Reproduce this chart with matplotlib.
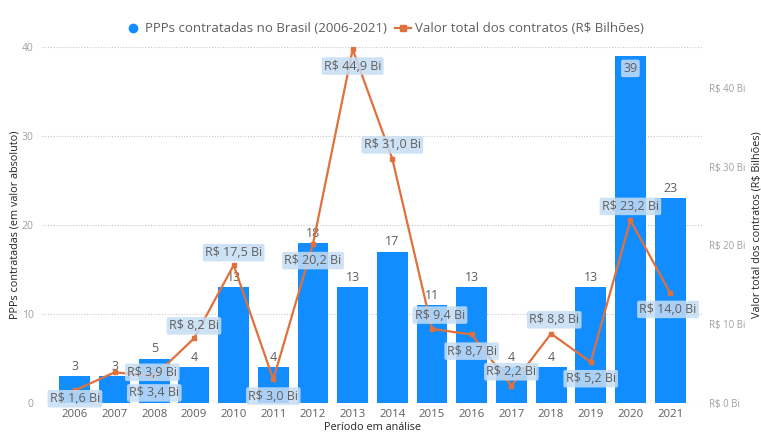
import matplotlib
matplotlib.use("Agg")
import matplotlib.pyplot as plt
from matplotlib.lines import Line2D

plt.rcParams['font.family'] = ['Open Sans', 'DejaVu Sans']

# Data
years = ["2006", "2007", "2008", "2009", "2010", "2011", "2012", "2013",
         "2014", "2015", "2016", "2017", "2018", "2019", "2020", "2021"]
ppp_count = [3, 3, 5, 4, 13, 4, 18, 13, 17, 11, 13, 4, 4, 13, 39, 23]
contract_value = [1.6, 3.9, 3.4, 8.2, 17.5, 3.0, 20.2, 44.9,
                  31.0, 9.4, 8.7, 2.2, 8.8, 5.2, 23.2, 14.0]
left_ticks = [0, 10, 20, 30, 40]
right_ticks = [0, 10, 20, 30, 40]

# Value-label placement: (horizontal shift in category units, vertical offset in points)
value_label_pos = [(0.0, -6), (0.95, 0), (0.0, -12), (0.0, 9), (0.0, 9),
                   (0.0, -12), (0.0, -12), (0.0, -12), (0.0, 10), (0.2, 10),
                   (0.0, -12), (0.0, 10), (0.08, 10), (0.0, -12), (0.0, 10),
                   (-0.05, -12)]

BLUE = "#118DFF"
ORANGE = "#E0703C"
TXT = "#605E5C"
TICK = "#A0A0A0"
BOX = dict(boxstyle="round,pad=0.18,rounding_size=0.15", fc="#C6DDF5",
           ec="none", alpha=0.85)

fig = plt.figure(figsize=(7.61, 4.34), dpi=100)
ax = fig.add_axes([0.0552, 0.0714, 0.8686, 0.8203])
ax2 = ax.twinx()

x = list(range(len(years)))
ax.bar(x, ppp_count, width=0.78, color=BLUE, zorder=2)
ax.set_xlim(-0.83, len(years) - 1 + 0.83)
ax.set_ylim(0, 40)
ax.set_yticks(left_ticks)
ax.set_xticks(x)
ax.set_xticklabels(years)
ax.grid(axis="y", linestyle=(0, (1, 1.5)), color="#C8C8C8", linewidth=0.8, zorder=0)
ax.set_axisbelow(True)

for s in ax.spines.values():
    s.set_visible(False)
for s in ax2.spines.values():
    s.set_visible(False)

ax.tick_params(axis="y", length=0, labelsize=7.5, labelcolor=TICK, pad=6)
ax.tick_params(axis="x", length=0, labelsize=8.2, labelcolor=TXT, pad=4)

# Bar count labels
for xi, v in zip(x, ppp_count):
    if v >= 35:
        ax.annotate(str(v), (xi, v), xytext=(0, -9), textcoords="offset points",
                    ha="center", va="center", fontsize=9, color=TXT,
                    bbox=BOX, zorder=6)
    else:
        ax.annotate(str(v), (xi, v), xytext=(0, 7), textcoords="offset points",
                    ha="center", va="center", fontsize=9, color=TXT, zorder=6)

# Contract value line on the secondary axis
ax2.set_ylim(0, 45.2)
ax2.set_yticks(right_ticks)
ax2.set_yticklabels([f"R$ {t} Bi" for t in right_ticks])
ax2.tick_params(axis="y", length=0, labelsize=6.9, labelcolor=TICK, pad=4)
ax2.plot(x, contract_value, color=ORANGE, linewidth=1.6, marker="s",
         markersize=3.5, zorder=4)

for xi, v, (dx, dy) in zip(x, contract_value, value_label_pos):
    ax2.annotate(f"R$ {v:.1f} Bi".replace(".", ","), (xi + dx, v),
                 xytext=(0, dy), textcoords="offset points",
                 ha="center", va="center", fontsize=9, color=TXT,
                 bbox=BOX, zorder=7)

ax.set_zorder(1)
ax2.set_zorder(2)
ax2.patch.set_visible(False)

ax.set_xlabel("Período em análise", fontsize=7.8, color="#252423")
ax.set_ylabel("PPPs contratadas (em valor absoluto)", fontsize=7.8,
              color="#252423")
ax2.set_ylabel("Valor total dos contratos (R$ Bilhões)", fontsize=7.8,
               color="#252423")
ax.xaxis.set_label_coords(0.5, -0.054)
ax.yaxis.set_label_coords(-0.033, 0.5)
ax2.yaxis.set_label_coords(1.073, 0.5)

handles = [
    Line2D([0], [0], marker="o", color="none", markerfacecolor=BLUE,
           markeredgecolor=BLUE, markersize=6),
    Line2D([0], [0], marker="s", color=ORANGE, linewidth=1.6,
           markersize=4),
]
fig.legend(handles, ["PPPs contratadas no Brasil (2006-2021)",
                     "Valor total dos contratos (R$ Bilhões)"],
           loc="center", bbox_to_anchor=(0.505, 0.934), ncol=2, frameon=False,
           fontsize=9.5, labelcolor=TXT, handlelength=1.2, handletextpad=0.3,
           columnspacing=0.6)

fig.savefig("out.png", dpi=100, facecolor="white")
